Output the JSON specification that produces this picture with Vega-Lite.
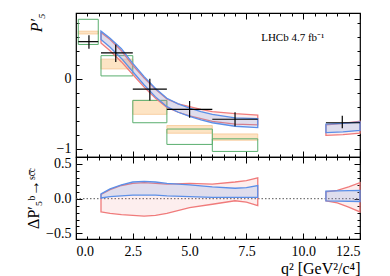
{
  "$schema": "https://vega.github.io/schema/vega-lite/v6.json",
  "padding": {"left": 25, "top": 11, "right": 5, "bottom": 0},
  "spacing": 0,
  "bounds": "flush",
  "config": {
    "font": "Liberation Serif",
    "view": {"stroke": "black", "strokeWidth": 1.2},
    "axis": {"grid": false, "domain": false, "tickColor": "black", "tickWidth": 1, "labelFont": "Liberation Serif", "labelFontSize": 14, "labelColor": "black", "titleFont": "Liberation Serif", "titleFontSize": 16, "titleColor": "black", "titleFontWeight": "normal"}
  },
  "datasets": {
    "pts": [
      {"q": 0.57, "qlo": 0.1, "qhi": 0.98, "v": 0.53, "lo": 0.43, "hi": 0.62},
      {"q": 1.75, "qlo": 1.1, "qhi": 2.5, "v": 0.37, "lo": 0.24, "hi": 0.49},
      {"q": 3.25, "qlo": 2.5, "qhi": 4.0, "v": -0.15, "lo": -0.31, "hi": 0.0},
      {"q": 5.0, "qlo": 4.0, "qhi": 6.0, "v": -0.44, "lo": -0.56, "hi": -0.32},
      {"q": 7.0, "qlo": 6.0, "qhi": 8.0, "v": -0.58, "lo": -0.68, "hi": -0.48},
      {"q": 11.72, "qlo": 11.0, "qhi": 12.5, "v": -0.63, "lo": -0.71, "hi": -0.53}
    ],
    "boxes": [
      {"set": "green", "qlo": 0.1, "qhi": 0.98, "lo": 0.49, "hi": 0.85},
      {"set": "green", "qlo": 1.1, "qhi": 2.5, "lo": 0.04, "hi": 0.33},
      {"set": "green", "qlo": 2.5, "qhi": 4.0, "lo": -0.63, "hi": -0.31},
      {"set": "green", "qlo": 4.0, "qhi": 6.0, "lo": -0.94, "hi": -0.72},
      {"set": "green", "qlo": 6.0, "qhi": 8.0, "lo": -1.04, "hi": -0.86},
      {"set": "orange", "qlo": 0.1, "qhi": 0.98, "lo": 0.64, "hi": 0.68},
      {"set": "orange", "qlo": 1.1, "qhi": 2.5, "lo": 0.14, "hi": 0.28},
      {"set": "orange", "qlo": 2.5, "qhi": 4.0, "lo": -0.51, "hi": -0.31},
      {"set": "orange", "qlo": 4.0, "qhi": 6.0, "lo": -0.78, "hi": -0.67},
      {"set": "orange", "qlo": 6.0, "qhi": 8.0, "lo": -0.88, "hi": -0.79}
    ],
    "topbands": [
      {"m": "blue", "seg": "a", "q": 1.1, "lo": 0.56, "hi": 0.68},
      {"m": "blue", "seg": "a", "q": 1.5, "lo": 0.45, "hi": 0.58},
      {"m": "blue", "seg": "a", "q": 2.0, "lo": 0.29, "hi": 0.43},
      {"m": "blue", "seg": "a", "q": 2.5, "lo": 0.10, "hi": 0.22},
      {"m": "blue", "seg": "a", "q": 3.0, "lo": -0.09, "hi": 0.03},
      {"m": "blue", "seg": "a", "q": 3.5, "lo": -0.26, "hi": -0.14},
      {"m": "blue", "seg": "a", "q": 4.0, "lo": -0.40, "hi": -0.28},
      {"m": "blue", "seg": "a", "q": 4.5, "lo": -0.48, "hi": -0.36},
      {"m": "blue", "seg": "a", "q": 5.0, "lo": -0.54, "hi": -0.42},
      {"m": "blue", "seg": "a", "q": 5.5, "lo": -0.59, "hi": -0.47},
      {"m": "blue", "seg": "a", "q": 6.0, "lo": -0.63, "hi": -0.51},
      {"m": "blue", "seg": "a", "q": 7.0, "lo": -0.68, "hi": -0.56},
      {"m": "blue", "seg": "a", "q": 8.0, "lo": -0.70, "hi": -0.57},
      {"m": "blue", "seg": "b", "q": 11.0, "lo": -0.77, "hi": -0.65},
      {"m": "blue", "seg": "b", "q": 11.75, "lo": -0.76, "hi": -0.64},
      {"m": "blue", "seg": "b", "q": 12.5, "lo": -0.74, "hi": -0.62},
      {"m": "red", "seg": "a", "q": 1.1, "lo": 0.51, "hi": 0.66},
      {"m": "red", "seg": "a", "q": 1.5, "lo": 0.40, "hi": 0.56},
      {"m": "red", "seg": "a", "q": 2.0, "lo": 0.24, "hi": 0.40},
      {"m": "red", "seg": "a", "q": 2.5, "lo": 0.06, "hi": 0.19},
      {"m": "red", "seg": "a", "q": 3.0, "lo": -0.12, "hi": 0.01},
      {"m": "red", "seg": "a", "q": 3.5, "lo": -0.28, "hi": -0.15},
      {"m": "red", "seg": "a", "q": 4.0, "lo": -0.41, "hi": -0.29},
      {"m": "red", "seg": "a", "q": 4.5, "lo": -0.48, "hi": -0.36},
      {"m": "red", "seg": "a", "q": 5.0, "lo": -0.53, "hi": -0.40},
      {"m": "red", "seg": "a", "q": 5.5, "lo": -0.57, "hi": -0.44},
      {"m": "red", "seg": "a", "q": 6.0, "lo": -0.61, "hi": -0.47},
      {"m": "red", "seg": "a", "q": 7.0, "lo": -0.65, "hi": -0.50},
      {"m": "red", "seg": "a", "q": 8.0, "lo": -0.66, "hi": -0.52},
      {"m": "red", "seg": "b", "q": 11.0, "lo": -0.81, "hi": -0.66},
      {"m": "red", "seg": "b", "q": 11.75, "lo": -0.80, "hi": -0.64},
      {"m": "red", "seg": "b", "q": 12.5, "lo": -0.78, "hi": -0.61}
    ],
    "botbands": [
      {"m": "blue", "seg": "a", "q": 1.1, "lo": 0.01, "hi": 0.07},
      {"m": "blue", "seg": "a", "q": 1.5, "lo": 0.03, "hi": 0.14},
      {"m": "blue", "seg": "a", "q": 2.0, "lo": 0.04, "hi": 0.20},
      {"m": "blue", "seg": "a", "q": 2.5, "lo": 0.05, "hi": 0.24},
      {"m": "blue", "seg": "a", "q": 3.0, "lo": 0.05, "hi": 0.25},
      {"m": "blue", "seg": "a", "q": 3.5, "lo": 0.05, "hi": 0.24},
      {"m": "blue", "seg": "a", "q": 4.0, "lo": 0.04, "hi": 0.22},
      {"m": "blue", "seg": "a", "q": 5.0, "lo": 0.03, "hi": 0.20},
      {"m": "blue", "seg": "a", "q": 6.0, "lo": 0.02, "hi": 0.17},
      {"m": "blue", "seg": "a", "q": 7.0, "lo": 0.02, "hi": 0.15},
      {"m": "blue", "seg": "a", "q": 7.5, "lo": 0.02, "hi": 0.16},
      {"m": "blue", "seg": "a", "q": 8.0, "lo": 0.02, "hi": 0.19},
      {"m": "blue", "seg": "b", "q": 11.0, "lo": -0.03, "hi": 0.11},
      {"m": "blue", "seg": "b", "q": 12.5, "lo": -0.04, "hi": 0.12},
      {"m": "red", "seg": "a", "q": 1.1, "lo": -0.19, "hi": 0.06},
      {"m": "red", "seg": "a", "q": 1.5, "lo": -0.21, "hi": 0.13},
      {"m": "red", "seg": "a", "q": 2.0, "lo": -0.23, "hi": 0.19},
      {"m": "red", "seg": "a", "q": 2.5, "lo": -0.24, "hi": 0.22},
      {"m": "red", "seg": "a", "q": 3.0, "lo": -0.25, "hi": 0.23},
      {"m": "red", "seg": "a", "q": 3.5, "lo": -0.24, "hi": 0.22},
      {"m": "red", "seg": "a", "q": 4.0, "lo": -0.21, "hi": 0.21},
      {"m": "red", "seg": "a", "q": 5.0, "lo": -0.13, "hi": 0.22},
      {"m": "red", "seg": "a", "q": 6.0, "lo": -0.08, "hi": 0.21},
      {"m": "red", "seg": "a", "q": 7.0, "lo": -0.03, "hi": 0.24},
      {"m": "red", "seg": "a", "q": 7.5, "lo": -0.05, "hi": 0.26},
      {"m": "red", "seg": "a", "q": 8.0, "lo": -0.10, "hi": 0.30},
      {"m": "red", "seg": "b", "q": 11.0, "lo": -0.03, "hi": 0.10},
      {"m": "red", "seg": "b", "q": 11.5, "lo": -0.06, "hi": 0.12},
      {"m": "red", "seg": "b", "q": 12.0, "lo": -0.12, "hi": 0.17},
      {"m": "red", "seg": "b", "q": 12.5, "lo": -0.19, "hi": 0.23}
    ]
  },
  "vconcat": [
    {
      "width": 284,
      "height": 144,
      "resolve": {"axis": {"x": "independent", "y": "independent"}},
      "layer": [
        {
          "data": {"name": "boxes"},
          "transform": [{"filter": "datum.set === 'orange'"}],
          "mark": {"type": "rect", "fill": "#fde4c4", "stroke": "#f7c894", "strokeWidth": 0.8},
          "encoding": {
            "x": {"field": "qlo", "type": "quantitative", "scale": {"domain": [0, 12.5], "nice": false, "zero": false},
                  "axis": {"orient": "bottom", "values": [0, 2.5, 5, 7.5, 10, 12.5], "labels": false, "tickSize": -6, "title": null}},
            "x2": {"field": "qhi"},
            "y": {"field": "lo", "type": "quantitative", "scale": {"domain": [-1.12, 0.94], "nice": false, "zero": false},
                  "axis": {"orient": "left", "values": [-1, 0], "format": "d", "tickSize": -6, "labelPadding": 11, "title": "P′₅", "titleAnchor": "end", "titleFontStyle": "italic", "titlePadding": 12}},
            "y2": {"field": "hi"}
          }
        },
        {
          "data": {"name": "boxes"},
          "transform": [{"filter": "datum.set === 'green'"}],
          "mark": {"type": "rect", "fill": null, "fillOpacity": 0, "stroke": "#5aae6e", "strokeWidth": 1},
          "encoding": {
            "x": {"field": "qlo", "type": "quantitative", "scale": {"domain": [0, 12.5], "nice": false, "zero": false},
                  "axis": {"orient": "bottom", "values": [0.5, 1, 1.5, 2, 3, 3.5, 4, 4.5, 5.5, 6, 6.5, 7, 8, 8.5, 9, 9.5, 10.5, 11, 11.5, 12], "labels": false, "tickSize": -3, "title": null}},
            "x2": {"field": "qhi"},
            "y": {"field": "lo", "type": "quantitative", "scale": {"domain": [-1.12, 0.94], "nice": false, "zero": false},
                  "axis": {"orient": "left", "values": [-0.8, -0.6, -0.4, -0.2, 0.2, 0.4, 0.6, 0.8], "labels": false, "tickSize": -3, "title": null}},
            "y2": {"field": "hi"}
          }
        },
        {
          "data": {"name": "topbands"},
          "transform": [{"filter": "datum.m === 'red'"}],
          "mark": {"type": "area", "fill": "#f07b7b", "fillOpacity": 0.13, "stroke": "#f07b7b", "strokeWidth": 1.3},
          "encoding": {
            "x": {"field": "q", "type": "quantitative", "scale": {"domain": [0, 12.5], "nice": false, "zero": false},
                  "axis": {"orient": "top", "values": [0, 2.5, 5, 7.5, 10, 12.5], "labels": false, "tickSize": -6, "title": null}},
            "y": {"field": "lo", "type": "quantitative", "scale": {"domain": [-1.12, 0.94], "nice": false, "zero": false},
                  "axis": {"orient": "right", "values": [-1, 0], "labels": false, "tickSize": -6, "title": null}},
            "y2": {"field": "hi"},
            "detail": {"field": "seg"}
          }
        },
        {
          "data": {"name": "topbands"},
          "transform": [{"filter": "datum.m === 'blue'"}],
          "mark": {"type": "area", "fill": "#5b8fe8", "fillOpacity": 0.18, "stroke": "#5b8fe8", "strokeWidth": 1.3},
          "encoding": {
            "x": {"field": "q", "type": "quantitative", "scale": {"domain": [0, 12.5], "nice": false, "zero": false},
                  "axis": {"orient": "top", "values": [0.5, 1, 1.5, 2, 3, 3.5, 4, 4.5, 5.5, 6, 6.5, 7, 8, 8.5, 9, 9.5, 10.5, 11, 11.5, 12], "labels": false, "tickSize": -3, "title": null}},
            "y": {"field": "lo", "type": "quantitative", "scale": {"domain": [-1.12, 0.94], "nice": false, "zero": false},
                  "axis": {"orient": "right", "values": [-0.8, -0.6, -0.4, -0.2, 0.2, 0.4, 0.6, 0.8], "labels": false, "tickSize": -3, "title": null}},
            "y2": {"field": "hi"},
            "detail": {"field": "seg"}
          }
        },
        {
          "data": {"name": "pts"},
          "mark": {"type": "rule", "color": "black", "strokeWidth": 1.2},
          "encoding": {
            "x": {"field": "qlo", "type": "quantitative", "axis": null},
            "x2": {"field": "qhi"},
            "y": {"field": "v", "type": "quantitative", "axis": null}
          }
        },
        {
          "data": {"name": "pts"},
          "mark": {"type": "rule", "color": "black", "strokeWidth": 1.2},
          "encoding": {
            "x": {"field": "q", "type": "quantitative", "axis": null},
            "y": {"field": "lo", "type": "quantitative", "axis": null},
            "y2": {"field": "hi"}
          }
        },
        {
          "data": {"values": [{"label": "LHCb 4.7 fb⁻¹"}]},
          "mark": {"type": "text", "align": "left", "baseline": "middle", "fontSize": 11, "font": "Liberation Serif", "color": "black"},
          "encoding": {
            "x": {"datum": 8.15, "type": "quantitative", "axis": null},
            "y": {"datum": 0.58, "type": "quantitative", "axis": null},
            "text": {"field": "label"}
          }
        }
      ]
    },
    {
      "width": 284,
      "height": 82,
      "resolve": {"axis": {"x": "independent", "y": "independent"}},
      "layer": [
        {
          "data": {"values": [{}]},
          "mark": {"type": "rule", "color": "#555555", "strokeWidth": 1, "strokeDash": [1.5, 2]},
          "encoding": {
            "x": {"datum": 0, "type": "quantitative", "scale": {"domain": [0, 12.5], "nice": false, "zero": false},
                  "axis": {"orient": "bottom", "values": [0, 2.5, 5, 7.5, 10, 12.5], "format": ".1f", "tickSize": -6, "labelPadding": 11, "title": "q² [GeV²/c⁴]", "titleAnchor": "end", "titlePadding": 2}},
            "x2": {"datum": 12.5},
            "y": {"datum": 0, "type": "quantitative", "scale": {"domain": [-0.58, 0.6], "nice": false, "zero": false},
                  "axis": {"orient": "left", "values": [-0.5, 0, 0.5], "format": ".1f", "tickSize": -6, "labelPadding": 11, "title": "ΔP′₅ᵇ→ˢᶜ̄ᶜ", "titlePadding": 4}}
          }
        },
        {
          "data": {"name": "botbands"},
          "transform": [{"filter": "datum.m === 'red' && datum.seg === 'a'"}],
          "mark": {"type": "area", "fill": "#f07b7b", "fillOpacity": 0.13, "stroke": "#f07b7b", "strokeWidth": 1.3},
          "encoding": {
            "x": {"field": "q", "type": "quantitative", "scale": {"domain": [0, 12.5], "nice": false, "zero": false},
                  "axis": {"orient": "bottom", "values": [0.5, 1, 1.5, 2, 3, 3.5, 4, 4.5, 5.5, 6, 6.5, 7, 8, 8.5, 9, 9.5, 10.5, 11, 11.5, 12], "labels": false, "tickSize": -3, "title": null}},
            "y": {"field": "lo", "type": "quantitative", "scale": {"domain": [-0.58, 0.6], "nice": false, "zero": false},
                  "axis": {"orient": "left", "values": [-0.4, -0.3, -0.2, -0.1, 0.1, 0.2, 0.3, 0.4], "labels": false, "tickSize": -3, "title": null}},
            "y2": {"field": "hi"}
          }
        },
        {
          "data": {"name": "botbands"},
          "transform": [{"filter": "datum.m === 'red' && datum.seg === 'b'"}],
          "mark": {"type": "area", "fill": "#f07b7b", "fillOpacity": 0.13, "stroke": "#f07b7b", "strokeWidth": 1.3},
          "encoding": {
            "x": {"field": "q", "type": "quantitative", "scale": {"domain": [0, 12.5], "nice": false, "zero": false},
                  "axis": {"orient": "top", "values": [0, 2.5, 5, 7.5, 10, 12.5], "labels": false, "tickSize": -6, "title": null}},
            "y": {"field": "lo", "type": "quantitative", "scale": {"domain": [-0.58, 0.6], "nice": false, "zero": false},
                  "axis": {"orient": "right", "values": [-0.5, 0, 0.5], "labels": false, "tickSize": -6, "title": null}},
            "y2": {"field": "hi"}
          }
        },
        {
          "data": {"name": "botbands"},
          "transform": [{"filter": "datum.m === 'blue'"}],
          "mark": {"type": "area", "fill": "#5b8fe8", "fillOpacity": 0.18, "stroke": "#5b8fe8", "strokeWidth": 1.3},
          "encoding": {
            "x": {"field": "q", "type": "quantitative", "scale": {"domain": [0, 12.5], "nice": false, "zero": false},
                  "axis": {"orient": "top", "values": [0.5, 1, 1.5, 2, 3, 3.5, 4, 4.5, 5.5, 6, 6.5, 7, 8, 8.5, 9, 9.5, 10.5, 11, 11.5, 12], "labels": false, "tickSize": -3, "title": null}},
            "y": {"field": "lo", "type": "quantitative", "scale": {"domain": [-0.58, 0.6], "nice": false, "zero": false},
                  "axis": {"orient": "right", "values": [-0.4, -0.3, -0.2, -0.1, 0.1, 0.2, 0.3, 0.4], "labels": false, "tickSize": -3, "title": null}},
            "y2": {"field": "hi"},
            "detail": {"field": "seg"}
          }
        }
      ]
    }
  ]
}
